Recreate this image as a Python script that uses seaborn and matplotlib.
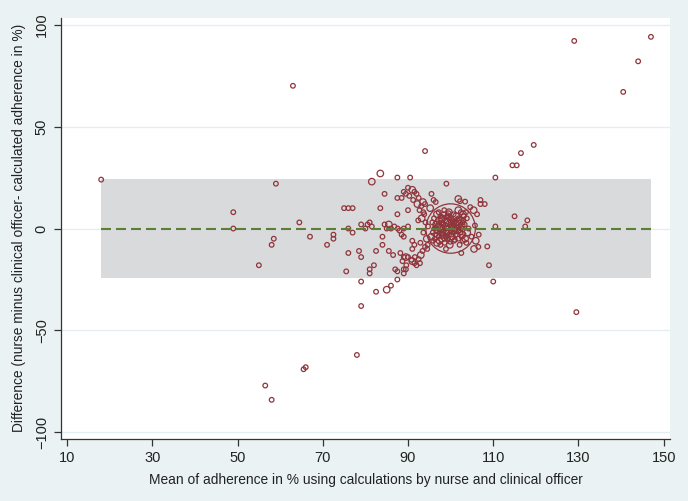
import numpy as np
import pandas as pd
import matplotlib
matplotlib.use("Agg")
import matplotlib.pyplot as plt
import seaborn as sns

# Bland-Altman data: mean (x), difference (y), frequency weight (w)
# scattered points
x_out = [18, 63, 129, 147, 144, 140.5, 94, 119.5, 116.5, 114.5, 115.5, 110.5, 59, 49, 49,
         64.5, 58.5, 58, 55, 67, 71, 72.5, 72.5, 75, 76, 77, 76, 77, 76, 75.5, 78.5, 79, 79,
         79, 78, 56.5, 58, 65.5, 66, 129.5, 109, 110, 110.5, 115, 118, 117.5, 107, 108, 107,
         106.5, 105.5, 102.5]
y_out = [24, 70, 92, 94, 82, 67, 38, 41, 37, 31, 31, 25, 22, 8, 0,
         3, -5, -8, -18, -4, -8, -3, -5, 10, 10, 10, 0, -2, -12, -21, -11, -14, -26,
         -38, -62, -77, -84, -69, -68, -41, -18, -26, 1, 6, 4, 1, 14, 12, 12,
         -9, -10, -12]
w_out = [1] * 50 + [2, 1]

# points around the centre, outside the dense core
x_mid = [83.5, 87.5, 90.5, 81.5, 99, 84.5, 87.5, 88.5, 89, 89.5, 90, 91, 91.5, 92, 92.5,
         93.5, 94, 95.5, 96, 96.5, 83.5, 90, 87.5, 81, 81.5, 80.5, 79, 80, 84.5, 85.5, 85,
         86, 89, 90, 84, 84, 82.5, 85.5, 86.5, 89, 89.5, 82, 81, 81, 87, 87.5, 89, 89.5,
         87.5, 89, 85, 86, 82.5, 88.5, 89, 91, 91.5, 91, 91, 91.5, 92, 93, 92.5, 94, 94.5,
         90, 90.8, 91.6, 92.8, 88.2, 88.7, 89.6, 101.8, 102.2, 103.4, 104.6, 105.4, 106.2,
         105.7, 108.6, 90.3, 91.2, 92.2, 93.1, 92.7, 93.6, 88, 87.6, 86.8, 93.2, 94.1,
         93.6, 94.4, 92.9, 93.8, 94.7, 92.4, 93.4, 94.6, 95.2, 106.6, 105.9, 104.9]
y_mid = [27, 25, 25, 23, 22, 17, 15, 15, 18, 17, 20, 19, 18, 17, 15,
         13, 12, 17, 14, 13, 10, 9, 7, 3, 1, 2, 2, 0, 2, 2, 0,
         0, 0, 1, -4, -8, -11, -11, -13, -14, -14, -18, -20, -22, -20, -21, -20, -20,
         -25, -22, -30, -28, -31, -3, -4, -6, -8, -10, -16, -17, -18, -13, -15, -9, -10,
         -14, -15.3, -14, -17, -12, -16, -18, 14.5, 13.4, 13.2, 10.5, 9, 7,
         1.5, -8.8, 16, 14, 12, 11, 9, 8, -1, 0, 1, 5, 3,
         -2, -5, -7, 7, 1, 4, -11, -8, 10, -3, -6, -4]
w_mid = [2, 1, 1, 2, 1, 1, 1, 1, 1, 1, 1, 2, 1, 1, 1,
         2, 1, 1, 1, 1, 1, 1, 1, 1, 1, 1, 1, 1, 1, 2, 1,
         1, 1, 1, 1, 1, 1, 1, 1, 1, 2, 1, 1, 1, 1, 1, 1, 1,
         1, 1, 2, 1, 1, 1, 1, 1, 1, 1, 2, 1, 1, 2, 1, 1, 1,
         1, 1, 1, 1, 1, 1, 1, 2, 1, 1, 1, 2, 1,
         1, 1, 1, 1, 2, 1, 1, 1, 1, 1, 1, 2, 1,
         1, 2, 1, 1, 1, 1, 1, 1, 2, 1, 2, 1]

# dense core around 100 %, plus the heavily weighted 100/0 point
x_core = [98.5, 101.8, 97.2, 99.6, 102.4, 103.6, 96.8, 98.4, 100.7, 102.9, 97.6, 99.2,
          101.3, 103.1, 96.1, 98.0, 99.8, 101.9, 103.8, 97.3, 98.7, 100.4, 102.2, 95.7,
          97.9, 99.3, 100.9, 102.8, 96.6, 98.3, 99.9, 101.4, 103.3, 97.1, 98.8, 100.3,
          102.0, 96.2, 97.7, 99.1, 100.7, 102.5, 104.2, 96.9, 98.4, 100.1, 101.6, 95.8,
          97.5, 99.0, 100.6, 102.3, 103.9, 96.4, 98.1, 99.6, 101.2, 95.5, 97.2, 98.8,
          100.3, 102.6, 96.3, 97.9, 99.4, 101.8, 103.4, 95.9, 97.4, 100.8, 102.9, 96.8,
          98.6, 103.7, 97.6, 99.8, 102.1, 98.9,
          97.8, 99.4, 100.9, 102.6, 98.2, 99.7, 101.1, 97.4, 100.2, 101.7, 98.9, 100.5,
          99.3, 101.0, 98.6, 100.0, 102.0, 97.0, 99.9, 101.5, 98.0, 100.8, 99.5, 102.8,
          96.5, 103.0, 100]
y_core = [9, 9, 8, 8, 8, 8, 7, 7, 7, 7, 6, 6,
          6, 6, 5, 5, 5, 5, 5, 4, 4, 4, 4, 3,
          3, 3, 3, 3, 2, 2, 2, 2, 2, 1, 1, 1,
          1, 0, 0, 0, 0, 0, 0, -1, -1, -1, -1, -2,
          -2, -2, -2, -2, -2, -3, -3, -3, -3, -4, -4, -4,
          -4, -4, -5, -5, -5, -5, -5, -6, -6, -6, -6, -7,
          -7, -7, -8, -8, -8, -10,
          4.5, 5.5, 3.5, 1.5, 2.5, 0.5, -0.5, -1.5, -2.5, 0.5, -3.5, 1.5,
          6.5, -5.5, -4.5, 3.0, -1.0, 1.0, -6.5, 4.5, -2.0, 2.5, 7.5, -3.0,
          0.5, 4.0, 0]
w_core = [1, 2, 1, 2, 1, 1, 2, 1, 1, 2, 1, 1,
          2, 1, 1, 2, 1, 1, 1, 2, 1, 1, 2, 1,
          1, 2, 1, 1, 2, 1, 1, 2, 1, 1, 2, 1,
          1, 1, 2, 1, 2, 1, 1, 2, 1, 1, 2, 1,
          1, 2, 1, 1, 2, 1, 2, 1, 1, 2, 1, 1,
          2, 1, 1, 2, 1, 1, 2, 1, 2, 1, 1, 2,
          1, 1, 1, 2, 1, 1,
          2, 1, 1, 2, 1, 2, 1, 1, 2, 1, 1, 2,
          1, 1, 2, 1, 1, 2, 1, 1, 2, 1, 1, 2,
          1, 1, 115]

# mean difference and limits of agreement
mean_diff = 0
lower_loa = -24.2
upper_loa = 24.2

df = pd.DataFrame({
    "mean": x_out + x_mid + x_core,
    "diff": y_out + y_mid + y_core,
    "w": w_out + w_mid + w_core,
})

sns.set_style("white")
plt.rcParams["font.family"] = ["Liberation Sans", "DejaVu Sans"]

bg = "#EAF2F3"
red = "#90353B"

fig = plt.figure(figsize=(6.88, 5.01), dpi=100, facecolor=bg)
ax = fig.add_axes([0.0892, 0.1238, 0.8848, 0.8409])
ax.set_facecolor("white")

# limits of agreement band and mean line over the range of the data
xmin, xmax = df["mean"].min(), df["mean"].max()
ax.fill_between([xmin, xmax], lower_loa, upper_loa, color="#D9DADC", lw=0, zorder=1)

wmin, wmax = df["w"].min(), df["w"].max()
sns.scatterplot(data=df, x="mean", y="diff", size="w", sizes=(11 * wmin, 11 * wmax),
                size_norm=(wmin, wmax), legend=False, ax=ax, zorder=3,
                color=red, facecolor="none", edgecolor=red, linewidth=0.9)
pts = ax.collections[-1]
pts.set_facecolor("none")
pts.set_edgecolor(red)

ax.plot([xmin, xmax], [mean_diff, mean_diff], color="#5C7E36", lw=1.5,
        linestyle=(0, (4.8, 2.4)), zorder=4)

ax.set_xlim(8.66, 151.5)
ax.set_ylim(-103.2, 103.4)
ax.set_xticks(range(10, 151, 20))
ax.set_yticks([-100, -50, 0, 50, 100])
ax.yaxis.grid(True, color="#E4EEF0", lw=1)
ax.set_axisbelow(True)

for s in ["top", "right"]:
    ax.spines[s].set_visible(False)
for s in ["left", "bottom"]:
    ax.spines[s].set_color("#333333")
    ax.spines[s].set_linewidth(0.9)

ax.tick_params(axis="both", direction="out", length=5, width=0.9, color="#333333",
               labelsize=10.5, labelcolor="#222222", left=True, bottom=True)
ax.tick_params(axis="x", pad=4)
ax.tick_params(axis="y", pad=4)
for lab in ax.get_yticklabels():
    lab.set_rotation(90)
    lab.set_va("center")

ax.set_xlabel("Mean of adherence in % using calculations by nurse and clinical officer",
              fontsize=9.9, color="#222222")
ax.set_ylabel("Difference (nurse minus clinical officer- calculated adherence in %)",
              fontsize=9.9, color="#222222")
ax.xaxis.set_label_coords(0.5, -0.081)
ax.yaxis.set_label_coords(-0.058, 0.5)

fig.savefig("out.png", dpi=100, facecolor=bg)
